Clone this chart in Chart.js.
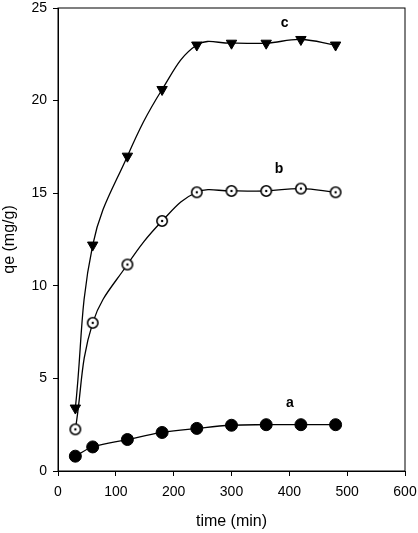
<!DOCTYPE html>
<html>
<head>
<meta charset="utf-8">
<script src="https://cdn.jsdelivr.net/npm/chart.js@4"></script>
<style>
html, body { margin: 0; padding: 0; background: #fff; }
#wrap { width: 418px; height: 533px; }
</style>
</head>
<body>
<div id="wrap"><canvas id="myChart"></canvas></div>
<script>
// sampling times (min)
const times = [30, 60, 120, 180, 240, 300, 360, 420, 480];
// qe (mg/g) for the three curves
const seriesA = [0.8, 1.3, 1.7, 2.08, 2.3, 2.47, 2.5, 2.5, 2.5];
const seriesB = [2.25, 8.0, 11.15, 13.5, 15.05, 15.12, 15.12, 15.25, 15.05];
const seriesC = [3.4, 12.2, 17.0, 20.6, 23.0, 23.1, 23.1, 23.3, 23.0];
// curve tags and where they sit (data units)
const curveTags = ['a', 'b', 'c'];
const tagX = [401, 382, 392];
const tagY = [3.65, 16.3, 24.2];

const font = 'Liberation Sans, Arial, sans-serif';

function toPoints(ys) {
    return times.map((t, i) => ({ x: t, y: ys[i] }));
}

// open circle with a dot in the middle
function dottedCircle() {
    const c = document.createElement('canvas');
    c.width = 14; c.height = 14;
    const g = c.getContext('2d');
    g.fillStyle = '#fff';
    g.strokeStyle = '#000';
    g.lineWidth = 1.6;
    g.beginPath(); g.arc(7, 7, 5.2, 0, Math.PI * 2); g.fill(); g.stroke();
    g.fillStyle = '#000';
    g.beginPath(); g.arc(7, 7, 1.2, 0, Math.PI * 2); g.fill();
    return c;
}

const framePlugin = {
    id: 'frame',
    afterDatasetsDraw(chart) {
        const { ctx, chartArea: a } = chart;
        ctx.save();
        ctx.strokeStyle = '#000';
        ctx.lineWidth = 1;
        ctx.strokeRect(a.left, a.top, a.right - a.left, a.bottom - a.top);
        ctx.restore();
    }
};

const tagPlugin = {
    id: 'tags',
    afterDatasetsDraw(chart) {
        const { ctx, scales: { x, y } } = chart;
        ctx.save();
        ctx.fillStyle = '#000';
        ctx.font = 'bold 14px ' + font;
        ctx.textAlign = 'center';
        ctx.textBaseline = 'middle';
        curveTags.forEach((t, i) => {
            ctx.fillText(t, x.getPixelForValue(tagX[i]), y.getPixelForValue(tagY[i]));
        });
        ctx.restore();
    }
};

const common = {
    borderColor: '#000',
    borderWidth: 1.3,
    tension: 0.4,
    pointBorderColor: '#000',
    pointBorderWidth: 1,
    fill: false
};

const ctx = document.getElementById('myChart').getContext('2d');
const myChart = new Chart(ctx, {
    type: 'line',
    data: {
        datasets: [
            Object.assign({ label: 'a', data: toPoints(seriesA), pointStyle: 'circle',
                pointRadius: 6, pointBackgroundColor: '#000' }, common),
            Object.assign({ label: 'b', data: toPoints(seriesB), pointStyle: dottedCircle(),
                pointRadius: 6 }, common),
            Object.assign({ label: 'c', data: toPoints(seriesC), pointStyle: 'triangle',
                rotation: 180, pointRadius: 6, pointBackgroundColor: '#000' }, common)
        ]
    },
    options: {
        responsive: true,
        maintainAspectRatio: false,
        animation: false,
        layout: { padding: { top: 8, right: 13, left: 0, bottom: 0 } },
        plugins: {
            legend: { display: false },
            tooltip: { enabled: false }
        },
        scales: {
            x: {
                type: 'linear',
                min: 0,
                max: 600,
                afterFit: s => { s.height = 62; s.paddingLeft = 0; s.paddingRight = 0; },
                ticks: { stepSize: 100, color: '#000', padding: 8, font: { family: font, size: 14 } },
                grid: { drawOnChartArea: false, tickLength: 5, color: '#000' },
                border: { color: '#000' },
                title: { display: true, text: 'time (min)', color: '#000',
                    padding: { top: 0, bottom: 2 }, font: { family: font, size: 16 } }
            },
            y: {
                min: 0,
                max: 25,
                afterFit: s => { s.width = 58; s.paddingTop = 0; s.paddingBottom = 0; },
                ticks: { stepSize: 5, color: '#000', padding: 6, font: { family: font, size: 14 } },
                grid: { drawOnChartArea: false, tickLength: 5, color: '#000' },
                border: { color: '#000' },
                title: { display: true, text: 'qe (mg/g)', color: '#000',
                    padding: { top: 0, bottom: 0 }, font: { family: font, size: 16 } }
            }
        }
    },
    plugins: [framePlugin, tagPlugin]
});
</script>
</body>
</html>
